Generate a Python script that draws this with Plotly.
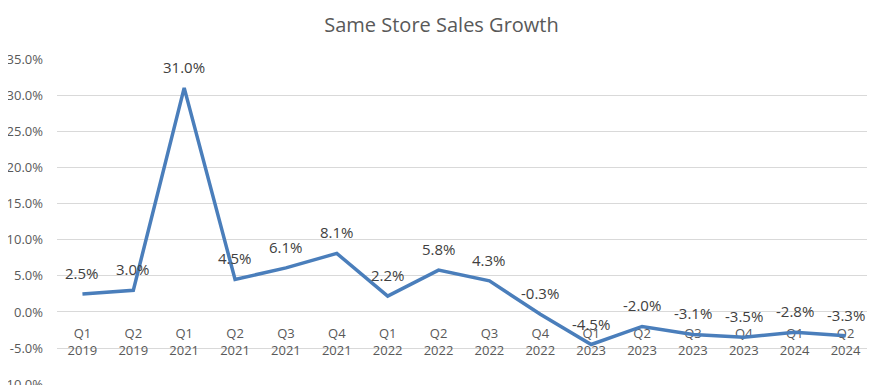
import plotly.graph_objects as go

quarters = ["Q1", "Q2", "Q1", "Q2", "Q3", "Q4", "Q1", "Q2", "Q3", "Q4", "Q1", "Q2", "Q3", "Q4", "Q1", "Q2"]
years = ["2019", "2019", "2021", "2021", "2021", "2021", "2022", "2022", "2022", "2022",
         "2023", "2023", "2023", "2023", "2024", "2024"]
growth = [2.5, 3.0, 31.0, 4.5, 6.1, 8.1, 2.2, 5.8, 4.3, -0.3, -4.5, -2.0, -3.1, -3.5, -2.8, -3.3]
y_ticks = [-10, -5, 0, 5, 10, 15, 20, 25, 30, 35]

cats = list(range(len(growth)))
cat_labels = [f"{q}<br>{y}" for q, y in zip(quarters, years)]

FONT = "Open Sans"
GREY = "#595959"

# the page body adds an 8px offset; size figure to compensate
W, H = 867, 377
M_L, M_R, M_T, M_B = 49, 4, 51, 0
Y_MIN, Y_MAX = -10.1, 35
px_per_unit = (H - M_T - M_B) / (Y_MAX - Y_MIN)

fig = go.Figure()

# category labels at the zero line (drawn beneath the line)
fig.add_trace(go.Scatter(
    x=cats, y=[-16 / px_per_unit] * len(cats), mode="text", text=cat_labels,
    textposition="bottom center",
    textfont=dict(family=FONT, size=13, color=GREY),
    hoverinfo="skip", showlegend=False,
))

fig.add_trace(go.Scatter(
    x=cats, y=growth, mode="lines",
    line=dict(color="#4A7EBB", width=3.5),
    showlegend=False,
))

for c, v in zip(cats, growth):
    fig.add_annotation(x=c, y=v, text=f"{v:.1f}%", showarrow=False,
                       yshift=21, yanchor="middle", xanchor="center",
                       font=dict(family=FONT, size=15, color="#404040"))

fig.update_layout(
    width=W, height=H,
    margin=dict(l=M_L, r=M_R, t=M_T, b=M_B),
    plot_bgcolor="white", paper_bgcolor="white",
    title=dict(text="Same Store Sales Growth", x=0.5, xanchor="center",
               y=1 - 17 / H, yanchor="middle",
               font=dict(family=FONT, size=20, color=GREY)),
    xaxis=dict(range=[-0.5, len(cats) - 0.5], showticklabels=False, showgrid=False,
               zeroline=False, showline=False, fixedrange=True, automargin=False),
    yaxis=dict(range=[Y_MIN, Y_MAX], tickvals=y_ticks,
               ticktext=[f"{v:.1f}%" for v in y_ticks],
               tickfont=dict(family=FONT, size=13, color=GREY),
               showgrid=True, gridcolor="#D9D9D9", gridwidth=1,
               zeroline=False, showline=False, ticklabelstandoff=13,
               ticklabeloverflow="allow", automargin=False),
)

fig.write_html("out.html")
